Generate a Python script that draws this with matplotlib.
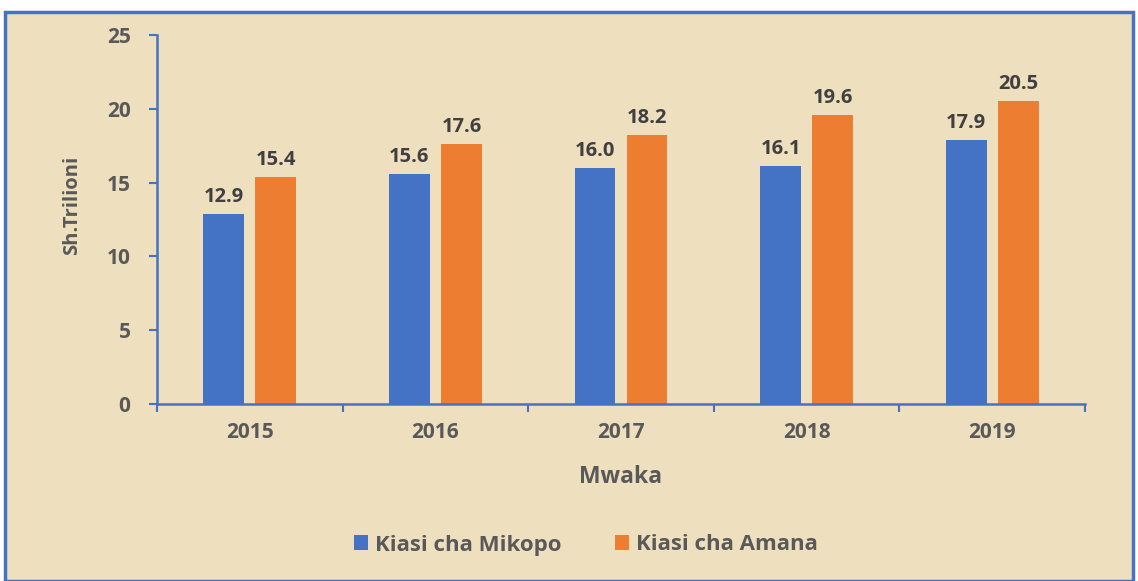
import matplotlib.pyplot as plt
import numpy as np
from matplotlib.patches import Rectangle

years = ["2015", "2016", "2017", "2018", "2019"]
mikopo = [12.9, 15.6, 16.0, 16.1, 17.9]
amana = [15.4, 17.6, 18.2, 19.6, 20.5]

BLUE = "#4472C4"
ORANGE = "#ED7D31"
GREY = "#595959"
BG = "#EEDFBE"

plt.rcParams["font.family"] = ["Open Sans", "DejaVu Sans"]

W, H = 1138, 581
fig = plt.figure(figsize=(W / 100, H / 100), dpi=100)
fig.patch.set_facecolor("white")

# parchment panel with blue frame
fig.patches.append(Rectangle((5 / W, 0), 1128 / W, 1 - 12 / H, transform=fig.transFigure,
                             facecolor=BG, edgecolor=BLUE, linewidth=2.5, zorder=-10))

ax = fig.add_axes([157 / W, 1 - 404 / H, (1085 - 157) / W, (404 - 35) / H])
ax.set_facecolor("none")

x = np.arange(len(years))
w = 0.22
off = 0.14
b1 = ax.bar(x - off, mikopo, w, color=BLUE, label="Kiasi cha Mikopo", zorder=2)
b2 = ax.bar(x + off, amana, w, color=ORANGE, label="Kiasi cha Amana", zorder=2)

for bars in (b1, b2):
    for r in bars:
        ax.annotate(f"{r.get_height():.1f}", (r.get_x() + r.get_width() / 2, r.get_height()),
                    xytext=(0, 5), textcoords="offset points", ha="center", va="bottom",
                    fontsize=14.5, fontweight="bold", color="#404040")

ax.set_xlim(-0.5, len(years) - 0.5)
ax.set_ylim(0, 25)
ax.set_yticks(range(0, 26, 5))
ax.set_xticks(x)
ax.set_xticklabels(years)
ax.set_xticks(np.arange(-0.5, len(years), 1), minor=True)
ax.tick_params(axis="x", which="major", length=0, pad=13, labelsize=15, labelcolor=GREY)
ax.tick_params(axis="x", which="minor", length=6, width=1.5, color=BLUE, direction="out")
ax.tick_params(axis="y", length=6, width=1.5, color=BLUE, pad=13, labelsize=15, labelcolor=GREY)
for lab in ax.get_xticklabels() + ax.get_yticklabels():
    lab.set_fontweight("bold")

for s in ("top", "right"):
    ax.spines[s].set_visible(False)
for s in ("left", "bottom"):
    ax.spines[s].set_color(BLUE)
    ax.spines[s].set_linewidth(1.8)

fig.text(72 / W, 1 - 205 / H, "Sh.Trilioni", rotation=90, ha="center", va="center",
         fontsize=14.5, fontweight="bold", color=GREY)
fig.text(621 / W, 1 - 477 / H, "Mwaka", ha="center", va="center",
         fontsize=16.5, fontweight="bold", color=GREY)

leg = fig.legend(handles=[b1, b2], loc="center", bbox_to_anchor=(586 / W, 1 - 545 / H), ncol=2,
                 frameon=False, handlelength=0.65, handleheight=0.65,
                 handletextpad=0.3, columnspacing=2.4,
                 prop={"weight": "bold", "size": 16})
for t in leg.get_texts():
    t.set_color(GREY)

fig.savefig("out.png", dpi=100, facecolor=fig.get_facecolor())
